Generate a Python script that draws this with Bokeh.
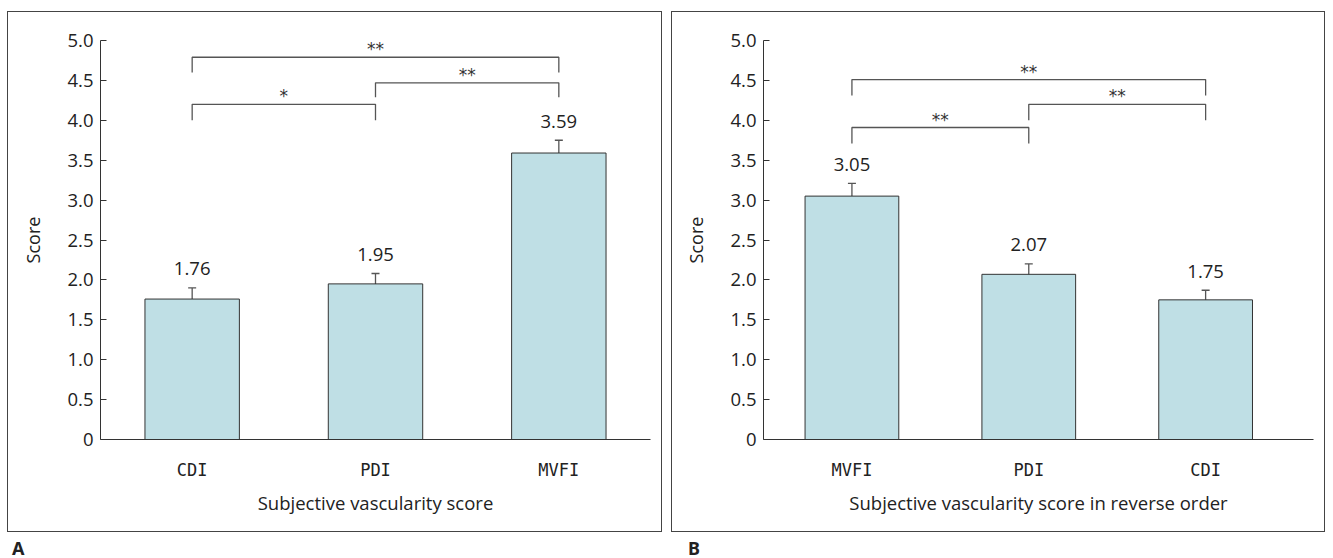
from bokeh.plotting import figure
from bokeh.models import (Range1d, FixedTicker, Whisker, TeeHead, ColumnDataSource,
                          NumeralTickFormatter, Div, Spacer)
from bokeh.layouts import column, row
from bokeh.core.properties import value
from bokeh.embed import file_html
from bokeh.resources import INLINE

# ---------------- data ----------------
cats_a = ["CDI", "PDI", "MVFI"]
means_a = [1.76, 1.95, 3.59]
sem_a = [0.14, 0.13, 0.16]
# brackets: (from index, to index, top, bottom, label)
brackets_a = [(0, 2, 4.79, 4.60, "**"), (1, 2, 4.47, 4.29, "**"), (0, 1, 4.20, 4.00, "*")]
xlabel_a = "Subjective vascularity score"

cats_b = ["MVFI", "PDI", "CDI"]
means_b = [3.05, 2.07, 1.75]
sem_b = [0.16, 0.13, 0.12]
brackets_b = [(0, 2, 4.51, 4.31, "**"), (1, 2, 4.20, 4.00, "**"), (0, 1, 3.91, 3.71, "**")]
xlabel_b = "Subjective vascularity score in reverse order"

y_ticks = [0, 0.5, 1.0, 1.5, 2.0, 2.5, 3.0, 3.5, 4.0, 4.5, 5.0]

BAR_FILL = "#bfdfe5"
DARK = "#333333"
GREY = "#555555"
NUM_FONT = "Open Sans"
CAT_FONT = "DejaVu Sans Mono"


def panel(cats, means, sems, brackets, xlabel, width, xend, bar_w, left_border, right_border):
    p = figure(width=width, height=521, x_range=Range1d(0, xend), y_range=Range1d(0, 5),
               output_backend="svg", toolbar_location=None,
               min_border_left=left_border, min_border_right=right_border,
               min_border_top=28, min_border_bottom=94,
               styles={"border": "1px solid #444444"})
    p.outline_line_color = None
    p.xgrid.visible = False
    p.ygrid.visible = False

    xs = [i + 0.5 for i in range(len(cats))]
    upper = [m + s for m, s in zip(means, sems)]
    lower = [m - s for m, s in zip(means, sems)]
    src = ColumnDataSource(dict(x=xs, top=means, upper=upper, lower=lower,
                                lab_y=[u + 0.24 for u in upper],
                                lab=["%.2f" % m for m in means]))

    p.vbar(x="x", top="top", bottom=0, width=bar_w, source=src,
           fill_color=BAR_FILL, line_color=DARK, line_width=1)
    p.add_layout(Whisker(base="x", upper="upper", lower="lower", source=src,
                         line_color=GREY, line_width=1.3,
                         upper_head=TeeHead(size=8, line_color=GREY, line_width=1.3),
                         lower_head=TeeHead(size=8, line_color=GREY, line_width=1.3)))
    p.text(x="x", y="lab_y", text="lab", source=src, text_align="center",
           text_baseline="alphabetic", text_font=value(NUM_FONT),
           text_font_size="18.5px", text_color="#222222")

    # significance brackets
    bxs, bys, sx, sy, st = [], [], [], [], []
    for i0, i1, top, bot, lab in brackets:
        x0, x1 = xs[i0], xs[i1]
        bxs.append([x0, x0, x1, x1])
        bys.append([bot, top, top, bot])
        sx.append((x0 + x1) / 2)
        sy.append(top + 0.10)
        st.append(lab)
    p.multi_line(xs=bxs, ys=bys, line_color=GREY, line_width=1.3)
    p.text(x=sx, y=sy, text=st, text_align="center", text_baseline="alphabetic",
           text_font=value("DejaVu Sans"), text_font_size="17px", text_color="#333333")

    # axes
    xa = p.xaxis[0]
    xa.ticker = FixedTicker(ticks=xs)
    xa.major_label_overrides = {x: c for x, c in zip(xs, cats)}
    xa.major_tick_out = 0
    xa.major_tick_in = 0
    xa.minor_tick_line_color = None
    xa.axis_line_color = DARK
    xa.major_label_text_font = CAT_FONT
    xa.major_label_text_font_size = "17px"
    xa.major_label_text_color = "#222222"
    xa.major_label_standoff = 20
    xa.axis_label = xlabel
    xa.axis_label_text_font = NUM_FONT
    xa.axis_label_text_font_style = "normal"
    xa.axis_label_text_font_size = "18.5px"
    xa.axis_label_text_color = "#222222"
    xa.axis_label_standoff = 7

    ya = p.yaxis[0]
    ya.ticker = FixedTicker(ticks=y_ticks)
    ya.formatter = NumeralTickFormatter(format="0.0")
    ya.major_label_overrides = {0: "0"}
    ya.major_tick_out = 0
    ya.major_tick_in = 6
    ya.major_tick_line_color = DARK
    ya.minor_tick_line_color = None
    ya.axis_line_color = DARK
    ya.major_label_text_font = NUM_FONT
    ya.major_label_text_font_size = "18.5px"
    ya.major_label_text_color = "#222222"
    ya.major_label_standoff = 7
    ya.axis_label = "Score"
    ya.axis_label_text_font = NUM_FONT
    ya.axis_label_text_font_style = "normal"
    ya.axis_label_text_font_size = "18px"
    ya.axis_label_text_color = "#222222"
    ya.axis_label_standoff = 19
    return p


pa = panel(cats_a, means_a, sem_a, brackets_a, xlabel_a, 655, 3.0, 0.515, 92, 13)
pb = panel(cats_b, means_b, sem_b, brackets_b, xlabel_b, 654, 3.11, 0.53, 91, 13)

lab_style = {"font-family": "Noto Sans", "font-weight": "bold", "font-size": "18px",
             "line-height": "20px", "padding-top": "1px", "color": "#222222"}
da = Div(text="A", width=657, height=21, styles=lab_style)
db = Div(text="B", width=656, height=21, styles=lab_style)

layout = column(Spacer(height=11),
                row(Spacer(width=7), pa, Spacer(width=9), pb, spacing=0),
                row(Spacer(width=7), da, Spacer(width=9), db, spacing=0),
                spacing=0)

open("out.html", "w").write(file_html(layout, INLINE))
